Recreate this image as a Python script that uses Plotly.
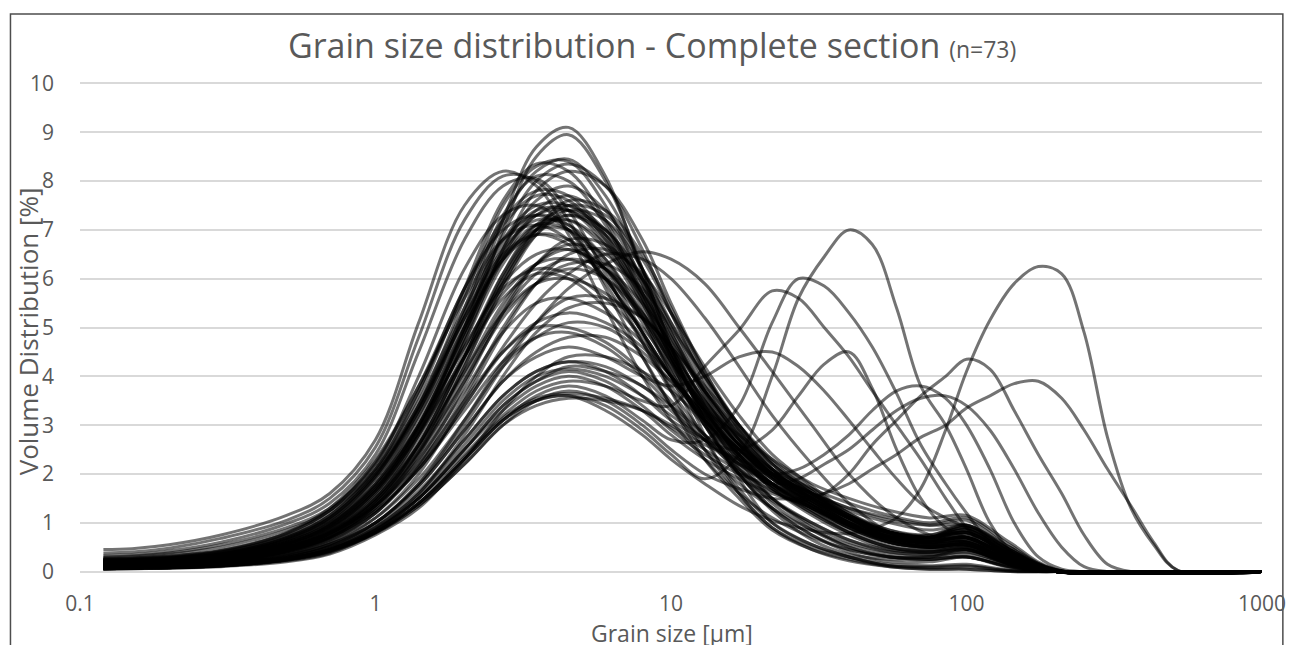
import plotly.graph_objects as go

# Grain size grids (µm)
GRAIN_SIZE_MAIN = [0.12, 0.15, 0.2, 0.3, 0.5, 0.7, 1, 1.4, 2, 2.7, 3.5, 4.5, 6, 8, 10, 13, 17, 22, 30, 40, 55, 75, 100, 140, 200, 1000]
GRAIN_SIZE_COARSE = [0.12, 0.15, 0.2, 0.3, 0.5, 0.7, 1, 1.4, 2, 2.7, 3.5, 4.5, 6, 8, 10, 13, 17, 22, 27, 33,
                     40, 48, 58, 70, 85, 100, 120, 145, 175, 210, 250, 300, 360, 430, 520, 1000]

# Volume distribution (%) per sample, unimodal fine samples (on GRAIN_SIZE_MAIN)
A1 = [0.45, 0.47, 0.55, 0.75, 1.15, 1.6, 2.7, 5.1, 7.5, 8.2, 7.9, 6.9, 5.4, 4.0, 3.1, 2.3, 1.6, 1.1, 0.7, 0.45, 0.3, 0.25, 0.3, 0.1, 0, 0]
A2 = [0.38, 0.4, 0.48, 0.68, 1.05, 1.5, 2.55, 4.8, 7.2, 8.1, 8.0, 7.2, 5.8, 4.4, 3.4, 2.5, 1.8, 1.3, 0.85, 0.55, 0.35, 0.3, 0.35, 0.12, 0, 0]
A3 = [0.33, 0.35, 0.42, 0.6, 0.98, 1.4, 2.4, 4.5, 6.8, 7.9, 8.05, 7.4, 6.1, 4.7, 3.7, 2.8, 2.0, 1.45, 1.0, 0.65, 0.4, 0.35, 0.4, 0.15, 0, 0]
A4 = [0.3, 0.32, 0.38, 0.55, 0.9, 1.3, 2.2, 4.0, 6.2, 7.3, 7.5, 7.0, 5.9, 4.7, 3.8, 3.0, 2.3, 1.7, 1.25, 0.85, 0.55, 0.45, 0.45, 0.18, 0, 0]
A5 = [0.28, 0.3, 0.36, 0.5, 0.85, 1.25, 2.1, 3.7, 5.8, 7.0, 7.3, 7.0, 6.0, 4.9, 4.0, 3.1, 2.4, 1.8, 1.3, 0.95, 0.65, 0.5, 0.5, 0.2, 0, 0]
B1 = [0.15, 0.16, 0.19, 0.26, 0.5, 0.85, 1.6, 2.9, 5.0, 7.2, 8.7, 9.1, 8.1, 6.1, 4.4, 2.8, 1.6, 0.9, 0.45, 0.22, 0.1, 0.05, 0.05, 0, 0, 0]
B2 = [0.14, 0.15, 0.18, 0.25, 0.48, 0.8, 1.5, 2.8, 4.8, 7.0, 8.5, 8.95, 8.0, 6.2, 4.6, 3.1, 2.0, 1.25, 0.65, 0.35, 0.25, 0.25, 0.3, 0.1, 0, 0]
C1 = [0.2, 0.21, 0.25, 0.34, 0.65, 1.05, 1.95, 3.4, 5.6, 7.5, 8.3, 8.4, 7.5, 5.9, 4.5, 3.2, 2.1, 1.4, 0.85, 0.5, 0.3, 0.3, 0.4, 0.15, 0, 0]
C2 = [0.22, 0.23, 0.27, 0.37, 0.7, 1.15, 2.1, 3.6, 5.8, 7.6, 8.35, 8.2, 7.2, 5.7, 4.5, 3.3, 2.4, 1.75, 1.2, 0.8, 0.5, 0.4, 0.45, 0.18, 0, 0]
C3 = [0.17, 0.18, 0.21, 0.3, 0.58, 0.95, 1.8, 3.2, 5.3, 7.2, 8.2, 8.45, 7.7, 6.2, 4.6, 3.1, 1.9, 1.0, 0.55, 0.3, 0.12, 0.08, 0.1, 0.02, 0, 0]
C4 = [0.16, 0.17, 0.2, 0.28, 0.55, 0.9, 1.7, 3.0, 5.0, 6.9, 8.0, 8.35, 7.9, 6.6, 5.3, 3.9, 2.8, 2.0, 1.4, 0.95, 0.6, 0.5, 0.55, 0.2, 0, 0]
C5 = [0.19, 0.2, 0.24, 0.33, 0.62, 1.0, 1.9, 3.3, 5.4, 7.3, 8.1, 8.0, 7.1, 5.6, 4.3, 3.0, 2.0, 1.3, 0.75, 0.4, 0.2, 0.2, 0.3, 0.1, 0, 0]
C6 = [0.14, 0.15, 0.18, 0.25, 0.5, 0.82, 1.55, 2.8, 4.7, 6.6, 7.8, 8.2, 7.9, 6.8, 5.5, 4.1, 2.9, 2.1, 1.45, 1.0, 0.65, 0.5, 0.55, 0.22, 0, 0]
D1 = [0.25, 0.26, 0.3, 0.42, 0.78, 1.25, 2.2, 3.7, 5.7, 7.1, 7.7, 7.6, 6.8, 5.5, 4.4, 3.3, 2.5, 1.9, 1.4, 1.0, 0.7, 0.6, 0.7, 0.3, 0, 0]
D2 = [0.21, 0.22, 0.26, 0.36, 0.68, 1.1, 2.0, 3.4, 5.3, 6.8, 7.5, 7.5, 6.9, 5.7, 4.6, 3.5, 2.6, 2.0, 1.5, 1.05, 0.75, 0.65, 0.8, 0.35, 0.02, 0]
D3 = [0.18, 0.19, 0.22, 0.31, 0.6, 0.98, 1.8, 3.1, 5.0, 6.5, 7.3, 7.4, 6.8, 5.7, 4.6, 3.5, 2.7, 2.05, 1.55, 1.1, 0.8, 0.7, 0.9, 0.4, 0.02, 0]
D4 = [0.24, 0.25, 0.29, 0.4, 0.74, 1.2, 2.1, 3.5, 5.4, 6.8, 7.3, 7.1, 6.2, 4.9, 3.7, 2.5, 1.6, 0.9, 0.5, 0.3, 0.15, 0.12, 0.15, 0.03, 0, 0]
D5 = [0.12, 0.13, 0.16, 0.23, 0.45, 0.75, 1.4, 2.6, 4.4, 6.1, 7.1, 7.4, 7.0, 6.0, 4.9, 3.7, 2.7, 2.0, 1.45, 1.0, 0.65, 0.55, 0.6, 0.25, 0, 0]
D6 = [0.2, 0.21, 0.24, 0.34, 0.64, 1.05, 1.9, 3.2, 5.0, 6.4, 7.0, 7.0, 6.4, 5.3, 4.3, 3.3, 2.5, 1.9, 1.45, 1.05, 0.75, 0.7, 0.95, 0.45, 0.03, 0]
D7 = [0.15, 0.16, 0.19, 0.27, 0.52, 0.86, 1.6, 2.85, 4.7, 6.3, 7.1, 7.2, 6.6, 5.4, 4.2, 3.0, 2.0, 1.3, 0.75, 0.45, 0.3, 0.3, 0.45, 0.18, 0, 0]
D8 = [0.27, 0.28, 0.32, 0.44, 0.8, 1.3, 2.3, 3.8, 5.6, 6.8, 7.1, 6.8, 6.0, 4.9, 4.0, 3.1, 2.4, 1.8, 1.35, 0.95, 0.65, 0.55, 0.6, 0.22, 0, 0]
D9 = [0.13, 0.14, 0.17, 0.24, 0.47, 0.78, 1.45, 2.6, 4.4, 6.0, 7.0, 7.5, 7.3, 6.4, 5.3, 4.0, 2.9, 2.1, 1.5, 1.0, 0.65, 0.55, 0.6, 0.22, 0, 0]
D10 = [0.17, 0.18, 0.21, 0.29, 0.56, 0.92, 1.7, 3.0, 4.9, 6.5, 7.4, 7.7, 7.2, 6.0, 4.7, 3.4, 2.3, 1.5, 0.9, 0.5, 0.3, 0.25, 0.3, 0.08, 0, 0]
D11 = [0.23, 0.24, 0.28, 0.38, 0.7, 1.12, 2.0, 3.3, 5.1, 6.4, 6.9, 6.8, 6.2, 5.2, 4.3, 3.4, 2.6, 2.0, 1.6, 1.3, 1.05, 0.95, 1.05, 0.5, 0.04, 0]
D12 = [0.1, 0.11, 0.14, 0.2, 0.4, 0.68, 1.3, 2.4, 4.2, 5.9, 7.0, 7.6, 7.4, 6.5, 5.4, 4.1, 3.0, 2.2, 1.6, 1.1, 0.7, 0.6, 0.7, 0.3, 0, 0]
D13 = [0.15, 0.16, 0.19, 0.27, 0.53, 0.88, 1.65, 2.95, 4.9, 6.6, 7.6, 7.9, 7.4, 6.2, 5.0, 3.7, 2.7, 1.95, 1.4, 0.95, 0.6, 0.5, 0.55, 0.2, 0, 0]
E1 = [0.2, 0.21, 0.24, 0.33, 0.6, 0.98, 1.75, 2.95, 4.6, 5.9, 6.5, 6.6, 6.2, 5.3, 4.4, 3.4, 2.6, 2.0, 1.5, 1.1, 0.8, 0.7, 0.85, 0.4, 0.03, 0]
E2 = [0.12, 0.13, 0.16, 0.22, 0.43, 0.72, 1.35, 2.4, 4.0, 5.4, 6.3, 6.7, 6.5, 5.7, 4.8, 3.7, 2.8, 2.1, 1.6, 1.15, 0.8, 0.7, 0.8, 0.35, 0.02, 0]
E3 = [0.18, 0.19, 0.22, 0.3, 0.56, 0.92, 1.65, 2.8, 4.4, 5.7, 6.3, 6.4, 6.0, 5.2, 4.3, 3.4, 2.6, 2.1, 1.7, 1.4, 1.15, 1.0, 1.1, 0.55, 0.04, 0]
E4 = [0.09, 0.1, 0.12, 0.18, 0.36, 0.62, 1.2, 2.2, 3.8, 5.3, 6.3, 6.8, 6.7, 6.0, 5.1, 4.0, 3.0, 2.2, 1.6, 1.1, 0.7, 0.55, 0.6, 0.22, 0, 0]
E5 = [0.22, 0.23, 0.26, 0.35, 0.64, 1.02, 1.8, 3.0, 4.6, 5.8, 6.2, 6.1, 5.6, 4.8, 4.0, 3.2, 2.5, 1.95, 1.5, 1.1, 0.8, 0.7, 0.85, 0.4, 0.03, 0]
E6 = [0.11, 0.12, 0.15, 0.21, 0.41, 0.69, 1.3, 2.3, 3.9, 5.3, 6.1, 6.4, 6.2, 5.5, 4.7, 3.7, 2.8, 2.1, 1.6, 1.15, 0.8, 0.7, 0.8, 0.35, 0.02, 0]
E7 = [0.14, 0.15, 0.18, 0.25, 0.48, 0.8, 1.45, 2.55, 4.1, 5.5, 6.3, 6.6, 6.2, 5.2, 4.0, 2.7, 1.7, 1.0, 0.55, 0.3, 0.12, 0.1, 0.12, 0.02, 0, 0]
E8 = [0.16, 0.17, 0.2, 0.27, 0.5, 0.82, 1.5, 2.6, 4.1, 5.3, 5.9, 6.0, 5.7, 5.0, 4.2, 3.3, 2.6, 2.0, 1.55, 1.15, 0.85, 0.75, 0.9, 0.42, 0.03, 0]
E9 = [0.08, 0.09, 0.11, 0.16, 0.32, 0.56, 1.1, 2.0, 3.5, 4.9, 5.9, 6.5, 6.6, 6.1, 5.3, 4.2, 3.2, 2.4, 1.75, 1.2, 0.8, 0.6, 0.65, 0.25, 0, 0]
E10 = [0.13, 0.14, 0.17, 0.24, 0.46, 0.77, 1.4, 2.45, 3.9, 5.2, 5.9, 6.2, 6.0, 5.3, 4.5, 3.5, 2.7, 2.05, 1.55, 1.1, 0.8, 0.7, 0.8, 0.35, 0.02, 0]
E11 = [0.19, 0.2, 0.23, 0.32, 0.58, 0.95, 1.7, 2.85, 4.4, 5.6, 6.1, 6.0, 5.4, 4.4, 3.4, 2.3, 1.5, 0.85, 0.45, 0.25, 0.1, 0.05, 0.05, 0, 0, 0]
E12 = [0.1, 0.11, 0.13, 0.19, 0.38, 0.64, 1.2, 2.15, 3.6, 5.0, 5.9, 6.3, 6.3, 5.8, 5.0, 4.0, 3.0, 2.25, 1.65, 1.15, 0.8, 0.65, 0.7, 0.28, 0, 0]
F1 = [0.15, 0.16, 0.19, 0.26, 0.47, 0.77, 1.35, 2.3, 3.7, 4.9, 5.5, 5.6, 5.3, 4.7, 4.0, 3.2, 2.5, 1.95, 1.5, 1.1, 0.8, 0.75, 0.95, 0.45, 0.03, 0]
F2 = [0.07, 0.08, 0.1, 0.15, 0.3, 0.52, 1.0, 1.8, 3.1, 4.3, 5.1, 5.6, 5.6, 5.2, 4.6, 3.7, 2.9, 2.2, 1.65, 1.15, 0.8, 0.65, 0.7, 0.3, 0.02, 0]
F3 = [0.12, 0.13, 0.16, 0.22, 0.42, 0.7, 1.25, 2.1, 3.4, 4.5, 5.1, 5.3, 5.1, 4.6, 4.0, 3.2, 2.5, 2.0, 1.6, 1.25, 1.0, 0.85, 0.95, 0.5, 0.04, 0]
F4 = [0.1, 0.11, 0.13, 0.19, 0.36, 0.6, 1.1, 1.9, 3.1, 4.2, 4.8, 5.1, 5.0, 4.5, 3.9, 3.1, 2.45, 1.9, 1.45, 1.05, 0.75, 0.65, 0.75, 0.35, 0.02, 0]
F5 = [0.16, 0.17, 0.2, 0.27, 0.48, 0.78, 1.35, 2.2, 3.5, 4.5, 5.0, 5.0, 4.7, 4.1, 3.5, 2.8, 2.2, 1.75, 1.35, 1.0, 0.75, 0.7, 0.9, 0.45, 0.03, 0]
F6 = [0.06, 0.07, 0.09, 0.13, 0.26, 0.46, 0.9, 1.6, 2.8, 4.0, 4.9, 5.4, 5.5, 5.2, 4.6, 3.8, 3.0, 2.3, 1.7, 1.2, 0.85, 0.7, 0.75, 0.3, 0.02, 0]
F7 = [0.09, 0.1, 0.12, 0.17, 0.33, 0.56, 1.0, 1.75, 2.9, 3.9, 4.5, 4.8, 4.8, 4.4, 3.9, 3.3, 2.8, 2.3, 1.8, 1.5, 1.25, 1.1, 1.15, 0.6, 0.05, 0]
F8 = [0.13, 0.14, 0.17, 0.23, 0.43, 0.7, 1.25, 2.1, 3.3, 4.3, 4.8, 4.9, 4.6, 4.0, 3.4, 2.7, 2.1, 1.65, 1.3, 0.95, 0.7, 0.65, 0.8, 0.38, 0.02, 0]
G1 = [0.05, 0.06, 0.07, 0.11, 0.22, 0.38, 0.8, 1.35, 2.2, 3.0, 3.4, 3.55, 3.5, 3.3, 3.0, 2.6, 2.3, 2.0, 1.6, 1.3, 1.1, 0.95, 0.95, 0.45, 0.03, 0]
G2 = [0.06, 0.07, 0.08, 0.12, 0.24, 0.42, 0.82, 1.4, 2.35, 3.15, 3.55, 3.65, 3.55, 3.3, 2.95, 2.5, 2.05, 1.65, 1.3, 0.95, 0.7, 0.6, 0.7, 0.3, 0.02, 0]
G3 = [0.08, 0.09, 0.1, 0.15, 0.29, 0.5, 0.92, 1.6, 2.7, 3.6, 4.1, 4.3, 4.2, 3.8, 3.4, 2.8, 2.25, 1.8, 1.4, 1.0, 0.72, 0.62, 0.7, 0.3, 0.02, 0]
G4 = [0.07, 0.08, 0.09, 0.14, 0.27, 0.47, 0.88, 1.55, 2.6, 3.5, 4.0, 4.15, 4.0, 3.6, 3.2, 2.7, 2.2, 1.8, 1.45, 1.1, 0.8, 0.7, 0.85, 0.4, 0.03, 0]
G5 = [0.05, 0.06, 0.07, 0.1, 0.2, 0.36, 0.75, 1.3, 2.3, 3.3, 4.0, 4.4, 4.4, 4.1, 3.7, 3.1, 2.5, 2.0, 1.55, 1.1, 0.75, 0.6, 0.65, 0.25, 0.02, 0]
H1 = [0.26, 0.27, 0.31, 0.43, 0.78, 1.25, 2.25, 3.8, 5.8, 7.2, 7.8, 7.7, 6.9, 5.6, 4.4, 3.2, 2.2, 1.5, 0.95, 0.6, 0.4, 0.35, 0.45, 0.15, 0, 0]
H2 = [0.2, 0.21, 0.25, 0.35, 0.66, 1.08, 1.95, 3.3, 5.2, 6.7, 7.4, 7.4, 6.7, 5.5, 4.4, 3.3, 2.4, 1.8, 1.3, 0.9, 0.6, 0.5, 0.55, 0.2, 0, 0]
H3 = [0.16, 0.17, 0.2, 0.28, 0.54, 0.88, 1.65, 2.9, 4.8, 6.4, 7.3, 7.5, 7.0, 5.8, 4.6, 3.4, 2.4, 1.7, 1.15, 0.75, 0.45, 0.4, 0.5, 0.18, 0, 0]
H4 = [0.13, 0.14, 0.17, 0.24, 0.46, 0.77, 1.45, 2.6, 4.4, 6.0, 7.0, 7.3, 6.9, 5.9, 4.8, 3.6, 2.6, 1.9, 1.35, 0.9, 0.6, 0.5, 0.6, 0.25, 0, 0]
H5 = [0.22, 0.23, 0.27, 0.37, 0.68, 1.1, 2.0, 3.35, 5.2, 6.6, 7.2, 7.1, 6.4, 5.2, 4.1, 3.0, 2.1, 1.5, 1.0, 0.65, 0.45, 0.4, 0.5, 0.2, 0, 0]
H6 = [0.11, 0.12, 0.15, 0.21, 0.42, 0.7, 1.35, 2.45, 4.2, 5.8, 6.9, 7.4, 7.2, 6.2, 5.1, 3.8, 2.7, 1.95, 1.35, 0.9, 0.6, 0.5, 0.55, 0.2, 0, 0]
H7 = [0.18, 0.19, 0.22, 0.31, 0.58, 0.95, 1.75, 3.0, 4.9, 6.4, 7.1, 7.0, 6.3, 5.1, 4.1, 3.1, 2.3, 1.75, 1.3, 0.9, 0.65, 0.55, 0.65, 0.25, 0, 0]
H8 = [0.14, 0.15, 0.18, 0.25, 0.48, 0.8, 1.5, 2.7, 4.5, 6.1, 7.0, 7.2, 6.7, 5.6, 4.5, 3.3, 2.35, 1.7, 1.2, 0.8, 0.5, 0.45, 0.55, 0.2, 0, 0]
H9 = [0.24, 0.25, 0.29, 0.4, 0.72, 1.15, 2.05, 3.4, 5.2, 6.5, 6.9, 6.7, 6.0, 4.9, 4.0, 3.1, 2.35, 1.8, 1.35, 0.95, 0.7, 0.6, 0.7, 0.3, 0.02, 0]
H10 = [0.12, 0.13, 0.16, 0.22, 0.43, 0.72, 1.38, 2.5, 4.3, 5.9, 6.9, 7.3, 7.0, 6.0, 4.9, 3.6, 2.55, 1.8, 1.25, 0.8, 0.5, 0.4, 0.45, 0.15, 0, 0]
W1 = [0.1, 0.11, 0.13, 0.18, 0.34, 0.56, 1.0, 1.8, 3.0, 4.2, 5.1, 5.8, 6.3, 6.55, 6.4, 5.9, 5.0, 4.1, 3.0, 2.0, 1.2, 0.75, 0.6, 0.2, 0, 0]
W2 = [0.12, 0.13, 0.15, 0.21, 0.4, 0.66, 1.2, 2.1, 3.4, 4.6, 5.5, 6.1, 6.5, 6.4, 6.0, 5.2, 4.2, 3.2, 2.2, 1.4, 0.8, 0.55, 0.5, 0.15, 0, 0]

# Bimodal samples with a coarse mode (on GRAIN_SIZE_COARSE)
K1 = [0.06, 0.07, 0.08, 0.12, 0.24, 0.42, 0.8, 1.4, 2.3, 3.1, 3.5, 3.6, 3.4, 2.9, 2.4, 1.9, 2.4, 4.0, 5.6, 6.45,
      7.0, 6.7, 5.4, 3.8, 3.0, 2.1, 1.0, 0.35, 0.1, 0, 0, 0, 0, 0, 0, 0]
K2 = [0.06, 0.07, 0.08, 0.12, 0.24, 0.42, 0.8, 1.4, 2.3, 3.1, 3.6, 3.8, 3.6, 3.1, 2.7, 2.7, 3.4, 5.1, 6.0, 5.85,
      5.3, 4.6, 3.65, 2.6, 1.8, 1.2, 0.6, 0.2, 0.03, 0, 0, 0, 0, 0, 0, 0]
K3 = [0.07, 0.08, 0.09, 0.13, 0.26, 0.45, 0.85, 1.5, 2.4, 3.2, 3.7, 3.9, 3.8, 3.5, 3.4, 4.2, 4.95, 5.75, 5.6, 5.0,
      4.4, 3.7, 3.0, 2.3, 1.5, 0.9, 0.4, 0.1, 0, 0, 0, 0, 0, 0, 0, 0]
K4 = [0.06, 0.07, 0.08, 0.12, 0.24, 0.42, 0.8, 1.4, 2.3, 3.1, 3.5, 3.6, 3.3, 2.8, 2.3, 1.8, 1.35, 1.05, 0.9, 0.8,
      0.78, 0.88, 1.1, 1.7, 2.9, 4.1, 5.15, 5.9, 6.25, 6.1, 4.9, 2.75, 1.3, 0.55, 0.02, 0]
K5 = [0.07, 0.08, 0.09, 0.13, 0.26, 0.45, 0.85, 1.5, 2.5, 3.3, 3.8, 4.0, 3.8, 3.3, 2.8, 2.3, 1.9, 1.6, 1.45, 1.6,
      2.0, 2.6, 3.1, 3.6, 4.0, 4.35, 4.15, 3.3, 2.4, 1.6, 0.75, 0.15, 0, 0, 0, 0]
K6 = [0.06, 0.07, 0.08, 0.12, 0.23, 0.4, 0.78, 1.35, 2.2, 3.0, 3.5, 3.7, 3.5, 3.0, 2.5, 2.0, 1.7, 1.5, 1.5, 1.6,
      1.8, 2.1, 2.4, 2.75, 3.0, 3.35, 3.6, 3.85, 3.9, 3.55, 2.9, 2.1, 1.35, 0.6, 0.02, 0]
K7 = [0.07, 0.08, 0.09, 0.13, 0.26, 0.45, 0.85, 1.5, 2.5, 3.4, 3.9, 4.2, 4.1, 3.8, 3.3, 2.7, 2.2, 2.0, 2.1, 2.4,
      2.8, 3.3, 3.7, 3.8, 3.55, 3.0, 2.1, 1.0, 0.3, 0.05, 0, 0, 0, 0, 0, 0]
K8 = [0.08, 0.09, 0.1, 0.15, 0.29, 0.5, 0.95, 1.65, 2.7, 3.6, 4.1, 4.3, 4.1, 3.6, 3.1, 2.7, 2.5, 2.9, 3.6, 4.25,
      4.5, 3.75, 2.5, 1.5, 0.9, 0.7, 0.5, 0.25, 0.05, 0, 0, 0, 0, 0, 0, 0]
K9 = [0.08, 0.09, 0.1, 0.15, 0.3, 0.52, 1.0, 1.75, 2.9, 3.9, 4.4, 4.6, 4.4, 4.0, 3.8, 4.0, 4.4, 4.5, 4.2, 3.7,
      3.1, 2.5, 1.9, 1.4, 1.1, 0.9, 0.6, 0.3, 0.1, 0, 0, 0, 0, 0, 0, 0]
K10 = [0.07, 0.08, 0.09, 0.13, 0.26, 0.45, 0.86, 1.5, 2.5, 3.4, 3.9, 4.1, 3.9, 3.4, 2.9, 2.4, 2.0, 1.8, 1.9, 2.2,
       2.5, 2.9, 3.3, 3.55, 3.6, 3.4, 2.9, 2.1, 1.2, 0.5, 0.1, 0, 0, 0, 0, 0]

MAIN_SAMPLES = [A1, A2, A3, A4, A5, B1, B2, C1, C2, C3, C4, C5, C6,
                D1, D2, D3, D4, D5, D6, D7, D8, D9, D10, D11, D12, D13,
                E1, E2, E3, E4, E5, E6, E7, E8, E9, E10, E11, E12,
                F1, F2, F3, F4, F5, F6, F7, F8, G1, G2, G3, G4, G5,
                H1, H2, H3, H4, H5, H6, H7, H8, H9, H10, W1, W2]
COARSE_SAMPLES = [K1, K2, K3, K4, K5, K6, K7, K8, K9, K10]

TEXT = "#595959"
FONT = "Open Sans"
LINE = dict(color="rgba(0,0,0,0.55)", width=3, shape="spline", smoothing=1.0)

fig = go.Figure()
for ys in MAIN_SAMPLES:
    fig.add_trace(go.Scatter(x=GRAIN_SIZE_MAIN, y=ys, mode="lines", line=LINE, hoverinfo="skip"))
for ys in COARSE_SAMPLES:
    fig.add_trace(go.Scatter(x=GRAIN_SIZE_COARSE, y=ys, mode="lines", line=LINE, hoverinfo="skip"))

# plot area: x 80..1270 px, y 82..575 px
L, R, T, B = 80, 28, 82, 70
W, H = 1298, 645
pw, ph = W - L - R, H - T - B


def px(x):
    return (x - L) / pw


def py(y):
    return (H - B - y) / ph


fig.update_layout(
    width=W, height=H,
    margin=dict(l=L, r=R, t=T, b=B),
    paper_bgcolor="white", plot_bgcolor="white",
    showlegend=False,
    font=dict(family=FONT, color=TEXT),
    xaxis=dict(type="log", range=[-1, 3], showgrid=False, zeroline=False, showline=False,
               tickvals=[0.1, 1, 10, 100, 1000], ticktext=["0.1", "1", "10", "100", "1000"],
               tickfont=dict(size=21, color=TEXT), ticks="", ticklabelstandoff=14),
    yaxis=dict(range=[-0.07, 10.03], dtick=1, tick0=0, showgrid=True, gridcolor="#d9d9d9", gridwidth=2,
               zeroline=True, zerolinecolor="#d9d9d9", zerolinewidth=2, showline=False,
               tickfont=dict(size=21, color=TEXT), ticks="", ticklabelstandoff=25),
    shapes=[dict(type="rect", xref="paper", yref="paper",
                 x0=px(10), x1=px(1291), y0=py(700), y1=py(14),
                 line=dict(color="#4d4d4d", width=1.5), fillcolor="rgba(0,0,0,0)", layer="below")],
    annotations=[
        dict(text="Grain size distribution - Complete section <span style='font-size:23px'>(n=73)</span>",
             x=px(656), y=py(45), xref="paper", yref="paper", showarrow=False,
             xanchor="center", yanchor="middle", font=dict(size=34, color=TEXT, family=FONT)),
        dict(text="Volume Distribution [%]", x=px(28), y=py(331), xref="paper", yref="paper",
             showarrow=False, textangle=-90, xanchor="center", yanchor="middle",
             font=dict(size=26, color=TEXT, family=FONT)),
        dict(text="Grain size [µm]", x=px(676), y=py(633), xref="paper", yref="paper",
             showarrow=False, xanchor="center", yanchor="middle",
             font=dict(size=23, color=TEXT, family=FONT)),
    ],
)

fig.write_html("out.html")
